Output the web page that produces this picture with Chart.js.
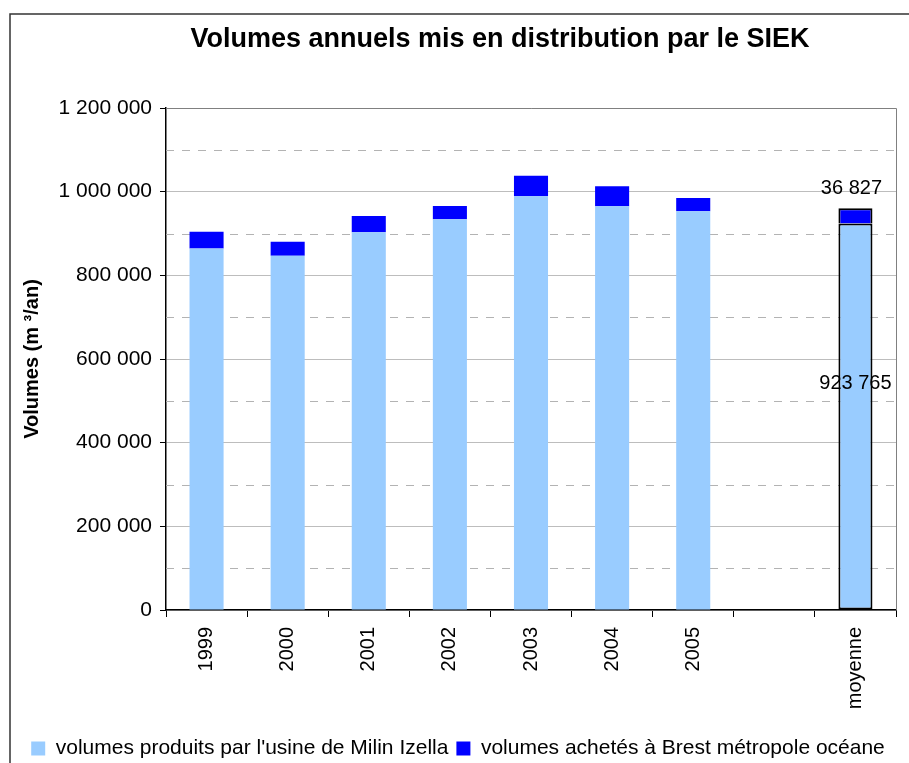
<!DOCTYPE html>
<html>
<head>
<meta charset="utf-8">
<script src="https://cdn.jsdelivr.net/npm/chart.js@4"></script>
<style>
html,body{margin:0;padding:0;background:#fff}
#wrap{width:909px;height:763px}
</style>
</head>
<body>
<div id="wrap"><canvas id="chart" width="909" height="763"></canvas></div>
<script>
const years=["1999","2000","2001","2002","2003","2004","2005","","moyenne"]
const produits=[864000,847000,903000,934000,989000,965000,953000,null,923765]
const achetes=[40000,33000,39000,32000,49000,48000,32000,null,36827]
const yTicks=[0,200000,400000,600000,800000,1000000,1200000]
const minorTicks=[100000,300000,500000,700000,900000,1100000]

const fmt=v=>String(v).replace(/\B(?=(\d{3})+(?!\d))/g," ")

const moy=years.indexOf("moyenne")
const borders=years.map((y,i)=>i===moy?2:0)

const extras={
id:"extras",
beforeDatasetsDraw(chart){
const ctx=chart.ctx
const a=chart.chartArea
const y=chart.scales.y
ctx.save()
ctx.strokeStyle="#b3b3b3"
ctx.lineWidth=1
ctx.setLineDash([8,8])
minorTicks.forEach(v=>{
const py=Math.round(y.getPixelForValue(v))+0.5
ctx.beginPath()
ctx.moveTo(a.left,py)
ctx.lineTo(a.right,py)
ctx.stroke()
})
ctx.setLineDash([])
ctx.strokeStyle="#808080"
ctx.beginPath()
ctx.moveTo(a.left,a.top+0.5)
ctx.lineTo(a.right+0.5,a.top+0.5)
ctx.lineTo(a.right+0.5,a.bottom)
ctx.stroke()
ctx.restore()
},
afterDraw(chart){
const ctx=chart.ctx
ctx.save()
// outer frame
ctx.strokeStyle="#333"
ctx.lineWidth=1.5
ctx.beginPath()
ctx.moveTo(10,770)
ctx.lineTo(10,14)
ctx.lineTo(915,14)
ctx.stroke()
// title
ctx.fillStyle="#000"
ctx.font="bold 27px 'Liberation Sans', Arial"
ctx.textAlign="center"
ctx.textBaseline="middle"
ctx.fillText("Volumes annuels mis en distribution par le SIEK",500,40)
// value labels on moyenne
ctx.font="20px 'Liberation Sans', Arial"
const b0=chart.getDatasetMeta(0).data[moy]
const b1=chart.getDatasetMeta(1).data[moy]
ctx.fillText(fmt(achetes[moy]),b1.x-4,b1.y-20)
ctx.fillText(fmt(produits[moy]),b0.x,(b0.y+b0.base)/2-33)
ctx.restore()
}
}

new Chart(document.getElementById("chart"),{
type:"bar",
data:{
labels:years,
datasets:[
{label:"volumes produits par l'usine de Milin Izella",data:produits,backgroundColor:"#99ccff",borderColor:"#000",borderWidth:borders,borderSkipped:false},
{label:"volumes achetés à Brest métropole océane",data:achetes,backgroundColor:"#0000ff",borderColor:"#000",borderWidth:borders,borderSkipped:"bottom"}
]
},
options:{
responsive:false,
animation:false,
layout:{padding:{top:108,right:13,left:20,bottom:-6}},
datasets:{bar:{categoryPercentage:1,barPercentage:0.42}},
plugins:{
title:{display:false},
tooltip:{enabled:false},
legend:{
position:"bottom",
labels:{boxWidth:14,boxHeight:14,padding:8,color:"#000",font:{family:"'Liberation Sans', Arial",size:21}}
}
},
scales:{
x:{
stacked:true,
afterFit:s=>{s.height=120},
grid:{offset:true,drawOnChartArea:false,color:"#000",tickLength:7},
border:{color:"#000",width:1.5},
ticks:{minRotation:90,maxRotation:90,color:"#000",padding:10,font:{family:"'Liberation Sans', Arial",size:20}}
},
y:{
stacked:true,
min:0,
max:1200000,
afterFit:s=>{s.width=146},
afterBuildTicks:s=>{s.ticks=yTicks.map(v=>({value:v}))},
grid:{color:"#bdbdbd",tickColor:"#000",tickLength:6},
border:{color:"#000",width:1.5},
ticks:{color:"#000",padding:8,font:{family:"'Liberation Sans', Arial",size:21},callback:v=>fmt(v)},
title:{display:true,text:"Volumes (m ³/an)",color:"#000",padding:{top:0,bottom:8},font:{family:"'Liberation Sans', Arial",size:20,weight:"bold"}}
}
}
},
plugins:[extras]
})
</script>
</body>
</html>
